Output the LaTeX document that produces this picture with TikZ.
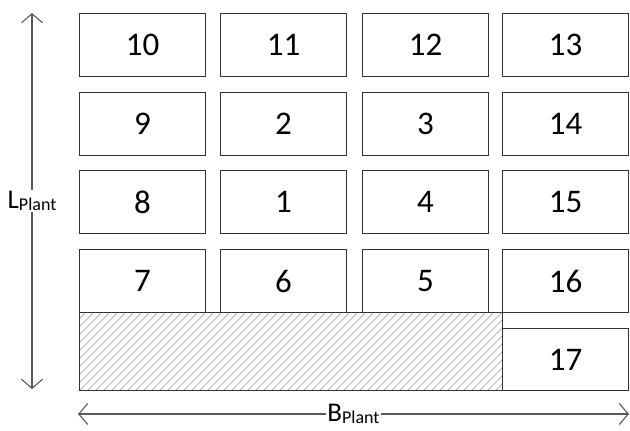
\documentclass[tikz,border=0pt]{standalone}
\usepackage{fontspec}
\setmainfont{Carlito}
\usetikzlibrary{arrows.meta,positioning}
\newcommand{\plantlabel}[1]{#1\raisebox{-2pt}{\fontsize{18}{20}\selectfont Plant}}
\tikzset{
  plot/.style={draw=black!80, line width=1.2pt, minimum width=126pt, minimum height=63pt,
    inner sep=0pt, anchor=north west, font=\fontsize{33}{38}\selectfont},
  dim/.style={draw=black!65, line width=1.1pt,
    {Straight Barb[length=9pt,width=21pt]}-{Straight Barb[length=9pt,width=21pt]}},
  hatch/.style={black!40, line width=0.6pt},
  dimlabel/.style={fill=white, inner sep=1pt, font=\fontsize{27}{30}\selectfont}
}
\begin{document}
\begin{tikzpicture}[x=1pt,y=-1pt]
\useasboundingbox (0,0) rectangle (630,431);
% plots, row by row
\foreach \n/\x/\y in {10/79/13, 11/220/13, 12/362/13, 13/502/13,
                      9/79/92, 2/220/92, 3/362/92, 14/502/92,
                      8/79/170, 1/220/170, 4/362/170, 15/502/170,
                      7/79/249, 6/220/249, 5/362/249, 16/502/249}
  \node[plot] (p\n) at (\x,\y) {\n};
\node[plot, minimum height=62pt] (p17) at (502,328) {17};
% free area
\node[draw=black!80, line width=1.2pt, minimum width=423pt, minimum height=78pt,
  inner sep=0pt, anchor=north west,
  path picture={\foreach \s in {-80,-72,...,430}
    \draw[hatch] ([xshift=\s pt]path picture bounding box.south west) -- ++(80pt,80pt);}]
  (free) at (79,312) {};
% dimensions
\coordinate (ltop) at (32,13);
\coordinate (lbot) at (32,389);
\coordinate (bleft) at (78,414);
\coordinate (bright) at (629,414);
\draw[dim] (ltop) -- node[dimlabel] {\plantlabel{L}} (lbot);
\draw[dim] (bleft) -- node[dimlabel] {\plantlabel{B}} (bright);
\end{tikzpicture}
\end{document}
